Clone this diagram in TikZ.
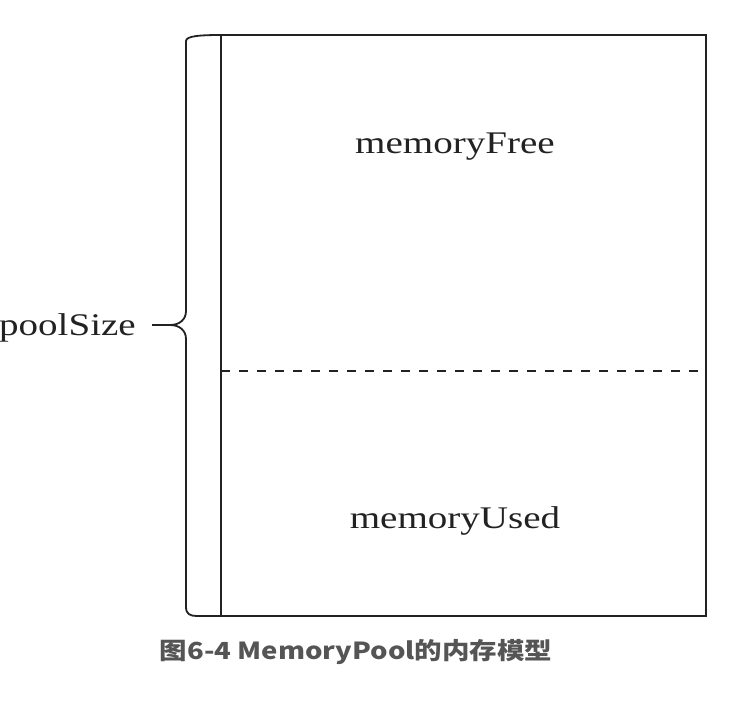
\documentclass[tikz,border=0pt]{standalone}
\usepackage{fontspec}
\newfontfamily\tnrfont[FakeStretch=1.24]{Liberation Serif}
\newfontfamily\capfont[FakeStretch=1.17]{Noto Sans CJK SC}
\definecolor{capgray}{HTML}{555555}
\definecolor{linegray}{HTML}{222222}
\tikzset{
  lbl/.style={font=\tnrfont\fontsize{31.5}{36}\selectfont, text=linegray, inner sep=0pt},
  capt/.style={font=\capfont\bfseries\fontsize{23.5}{28}\selectfont, text=capgray, inner sep=0pt},
  frame/.style={draw=linegray, line width=1.8pt},
  bracestyle/.style={draw=linegray, line width=1.8pt, line join=round},
  divider/.style={draw=linegray, line width=1.6pt, dash pattern=on 9pt off 9pt},
}
\begin{document}
\begin{tikzpicture}[x=1pt,y=-1pt]
\useasboundingbox (0,0) rectangle (737,705);
% pool rectangle
\coordinate (tl) at (221,35);
\coordinate (br) at (706,616);
\coordinate (dl) at (221,371);
\coordinate (dr) at (706,371);
\draw[frame] (tl) rectangle (br);
\draw[divider] (dl) -- (dr);
% brace
\coordinate (tip) at (170,325);
\coordinate (tail) at (152,325);
\draw[bracestyle] (221,35) .. controls (200,35) and (186,36) .. (186,41)
  -- (186,311) .. controls (186,320) and (179,325) .. (tip)
  .. controls (179,325) and (186,330) .. (186,339)
  -- (186,607) .. controls (186,614) and (190,616) .. (197,616) -- (221,616);
\draw[bracestyle] (tail) -- (tip);
% labels
\node[lbl, anchor=base east] (pool) at (136,335) {poolSize};
\node[lbl, anchor=base] (free) at (455,153) {memoryFree};
\node[lbl, anchor=base] (used) at (455,528) {memoryUsed};
\node[capt, anchor=base] (cap) at (356,659) {图6-4 MemoryPool的内存模型};
\end{tikzpicture}
\end{document}
